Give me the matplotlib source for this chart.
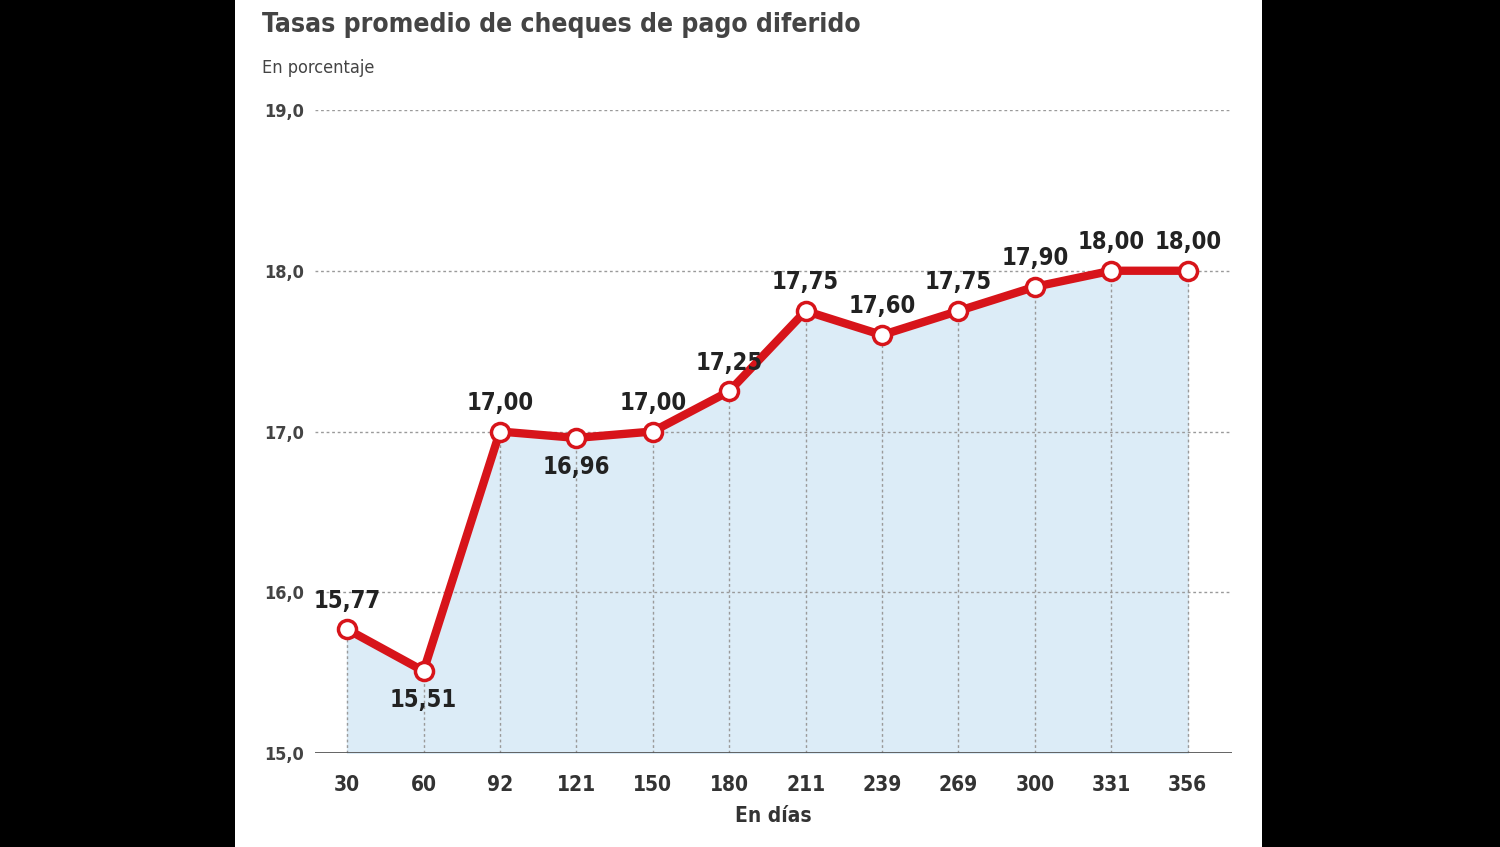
import matplotlib
matplotlib.use("Agg")
import matplotlib.pyplot as plt
from matplotlib.patches import Rectangle

days = ["30","60","92","121","150","180","211","239","269","300","331","356"]
rates = [15.77,15.51,17.00,16.96,17.00,17.25,17.75,17.60,17.75,17.90,18.00,18.00]
labels = ["15,77","15,51","17,00","16,96","17,00","17,25","17,75","17,60","17,75","17,90","18,00","18,00"]
below = [False,True,False,True,False,False,False,False,False,False,False,False]
yticks = [15,16,17,18,19]
ytick_labels = ["15,0","16,0","17,0","18,0","19,0"]

fam = ["DejaVu Sans"]
st = "condensed"
fig = plt.figure(figsize=(15,8.47), dpi=100)
fig.patch.set_facecolor("black")
fig.patches.append(Rectangle((235/1500,0),(1262-235)/1500,1,transform=fig.transFigure,facecolor="white",zorder=-5))
ax = fig.add_axes([315/1500, 1-753/847, (1232-315)/1500, (753-110)/847])
ax.set_zorder(2)
ax.set_facecolor("none")
x = list(range(len(days)))
ax.set_xlim(-0.42, 11.58); ax.set_ylim(15,19)
ax.fill_between(x, rates, 15, color="#dcecf7", zorder=1)
for xi, r in zip(x, rates):
    ax.plot([xi,xi],[15,r],color="#9a9a9a",lw=1,ls=(0,(2,2)),zorder=2)
for t in yticks[1:]:
    ax.axhline(t,color="#9a9a9a",lw=1,ls=(0,(2,2)),zorder=1.5)
ax.axhline(15,color="#555555",lw=2,zorder=3)
ax.plot(x, rates, color="#d7141a", lw=6, zorder=4, solid_joinstyle="round")
ax.plot(x, rates, "o", ms=13, mfc="white", mec="#d7141a", mew=2.5, zorder=5)
for xi, r, l, b in zip(x, rates, labels, below):
    ax.annotate(l,(xi,r),xytext=(0,-12 if b else 12),textcoords="offset points",ha="center",
                va="top" if b else "bottom",fontsize=17,fontweight="bold",family=fam,fontstretch=st,
                color="#222222",zorder=6)
for s in ax.spines.values(): s.set_visible(False)
ax.set_xticks(x); ax.set_xticklabels(days, family=fam, fontsize=15, fontweight="bold", fontstretch=st, color="#333333")
ax.set_yticks(yticks); ax.set_yticklabels(ytick_labels, family=fam, fontsize=13, fontweight="bold", fontstretch=st, color="#444444")
ax.tick_params(length=0, pad=16)
ax.tick_params(axis="y", pad=8)
ax.set_xlabel("En días", family=fam, fontsize=15, fontweight="bold", fontstretch=st, color="#333333", labelpad=8)
fig.text(262/1500, 1-25/847, "Tasas promedio de cheques de pago diferido", family=fam, fontsize=19,
         fontweight="bold", fontstretch=st, color="#444444", va="center")
fig.text(262/1500, 1-68/847, "En porcentaje", family=fam, fontsize=13, fontstretch=st, color="#444444", va="center")
fig.savefig("out.png", dpi=100, facecolor=fig.get_facecolor())
